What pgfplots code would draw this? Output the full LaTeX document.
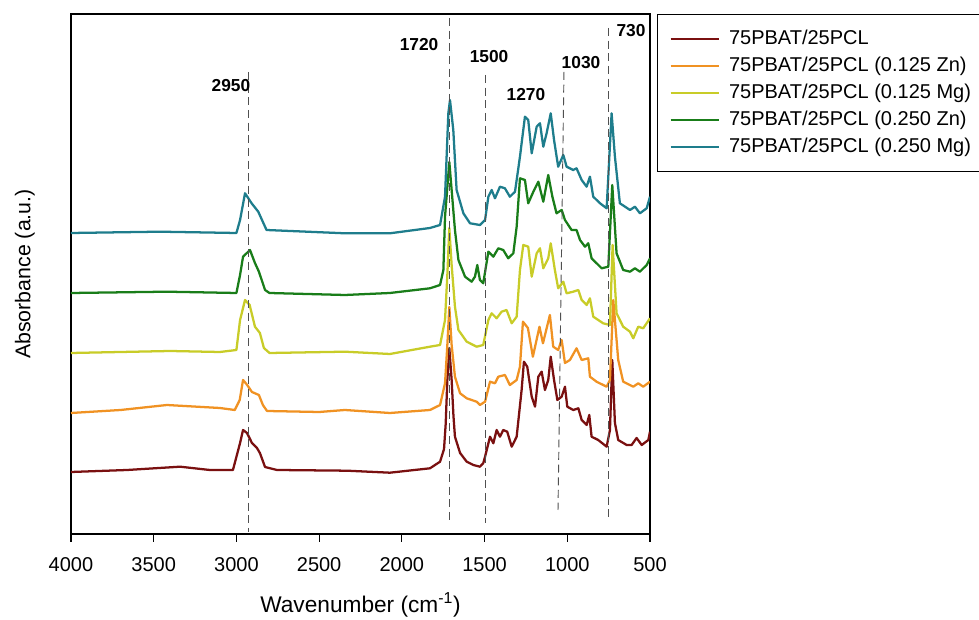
\documentclass[border=0pt]{standalone}
\usepackage{fontspec}
\setmainfont{Liberation Sans}
\usepackage{pgfplots}
\pgfplotsset{compat=1.18}

\definecolor{cMaroon}{RGB}{122,16,16}
\definecolor{cOrange}{RGB}{240,146,35}
\definecolor{cLime}{RGB}{200,204,40}
\definecolor{cGreen}{RGB}{25,125,25}
\definecolor{cTeal}{RGB}{30,125,140}
\definecolor{cDash}{RGB}{80,80,80}

\begin{document}
\begin{tikzpicture}
\useasboundingbox (-53.25pt,-64.5pt) rectangle (681pt,400.5pt);
\begin{axis}[
  scale only axis,
  width=434.25pt, height=390pt,
  x dir=reverse,
  xmin=500, xmax=4000,
  ymin=0, ymax=520,
  xtick={500,1000,1500,2000,2500,3000,3500,4000},
  ytick=\empty,
  xtick pos=bottom,
  tick align=outside,
  major tick length=6pt,
  axis line style={line width=0.9pt},
  every tick/.style={line width=0.9pt, black},
  /pgf/number format/assume math mode=true,
  /pgf/number format/set thousands separator={},
  ticklabel style={font=\fontsize{15}{18}\selectfont},
  xticklabel style={anchor=center, yshift=-17pt},
  xlabel={Wavenumber (cm\textsuperscript{-1})},
  ylabel={Absorbance (a.u.)},
  label style={font=\fontsize{17}{20}\selectfont},
  xlabel style={at={(axis description cs:0.5,-0.1365)}, anchor=center},
  ylabel style={at={(axis description cs:-0.0795,0.50)}, anchor=center, font=\fontsize{16}{19}\selectfont},
  legend style={at={(1,1)}, anchor=north west, xshift=5.25pt,
    draw=black, line width=0.6pt, inner xsep=9pt, inner ysep=10.5pt,
    font=\fontsize{15}{18}\selectfont, row sep=4.25pt,
    nodes={inner sep=1pt, text height=11pt, text depth=3pt}},
  legend cell align=left,
  legend image code/.code={\draw[#1, line width=1.8pt] (0pt,0pt) -- (36pt,0pt); \path (42pt,0pt);},
  every axis plot/.append style={line width=1.7pt, line join=round},
]
% 75PBAT/25PCL
\addplot[cMaroon] coordinates {
 (4000,62) (3661,64) (3341,67.3) (3160,64) (3021,64) (2978,91) (2960,104) (2936,101)
 (2906,91) (2876,86) (2858,81) (2827,67) (2755,64) (2332,63.3) (2072,61.3) (1830,65.7)
 (1769,72.3) (1745,85) (1735,110) (1725,154) (1713,186) (1699,154) (1688,118) (1679,97.3) (1648,81) (1608,72.3)
 (1568,69) (1528,67.3) (1508,70.7) (1497,77.3) (1467,97.3) (1447,90.7) (1427,104) (1407,97.3)
 (1387,104) (1363,102.3) (1336,87.3) (1306,97.3) (1276,144) (1262,172.3) (1242,167.3)
 (1215,137.3) (1195,127.3) (1175,157.3) (1155,162.3) (1135,144) (1115,154) (1100,177.3)
 (1080,154) (1060,134) (1034,137.3) (1014,147.3) (1000,127.3) (964,124) (933,125.7)
 (913,114) (883,109) (867,119) (853,97.3) (813,94) (762,87.3) (742,104) (728,174)
 (712,111) (692,94) (641,89) (611,89) (581,96) (550,89) (510,94) (500,102.3)};
\addlegendentry{75PBAT/25PCL}
% 0.125 Zn
\addplot[cOrange] coordinates {
 (4000,121) (3700,124) (3420,129) (3100,126) (3010,124) (2980,134) (2960,154) (2935,149)
 (2906,142) (2864,139) (2840,129) (2815,123) (2500,122) (2344,124) (2072,121) (1830,124)
 (1769,129) (1739,150.7) (1725,189) (1713,227) (1699,189) (1679,157.3) (1648,140.7)
 (1608,135.7) (1548,132.3) (1528,129) (1497,132.3) (1467,152.3) (1437,150.7) (1417,157.3)
 (1377,159) (1347,149) (1306,154) (1286,167.3) (1268,212.3) (1238,206) (1208,177.3)
 (1168,207.3) (1147,190.7) (1105,219) (1085,187.3) (1055,184) (1034,194) (1014,171)
 (984,174) (944,185.7) (913,174) (873,175.7) (863,157.3) (823,152.3) (762,147.3)
 (742,154) (722,234) (692,174) (662,152.3) (601,147.3) (571,150.7) (541,147.3) (500,152.3)};
\addlegendentry{75PBAT/25PCL (0.125 Zn)}
% 0.125 Mg
\addplot[cLime] coordinates {
 (4000,181) (3700,182) (3400,183) (3100,182) (3000,184) (2978,214) (2948,234) (2920,229)
 (2888,207.3) (2858,201) (2834,186) (2800,181) (2344,182.3) (2072,180) (1830,187.3)
 (1769,189) (1739,214) (1725,259) (1713,306) (1699,269) (1679,227.3) (1658,204)
 (1608,192.3) (1548,187.3) (1508,189) (1477,214) (1457,220.7) (1427,215.7) (1397,222.3)
 (1367,224) (1336,210.7) (1306,217.3) (1286,264) (1266,289) (1236,287.3) (1215,257.3)
 (1185,280.7) (1165,285.7) (1145,265.7) (1115,275.7) (1100,290.7) (1075,264) (1055,245.7)
 (1024,252.3) (1004,240.7) (964,242.3) (933,244) (913,234) (883,229) (863,235.7)
 (843,217.3) (783,210.7) (742,209) (726,289) (702,220.7) (662,207.3) (621,202.3)
 (601,195.7) (571,207.3) (541,205.7) (500,215.7)};
\addlegendentry{75PBAT/25PCL (0.125 Mg)}
% 0.250 Zn
\addplot[cGreen] coordinates {
 (4000,241) (3420,242.3) (3000,241) (2978,259) (2960,277.3) (2918,284) (2888,271)
 (2864,262.3) (2827,244) (2800,241) (2344,239) (2072,241) (1830,245.7) (1769,249)
 (1749,264) (1739,317.3) (1713,372) (1679,304) (1658,274) (1618,257.3) (1578,252.3)
 (1558,257.3) (1544,269) (1528,254) (1508,250.7) (1477,282.3) (1447,277.3) (1417,285.7)
 (1387,284) (1357,275.7) (1326,280.7) (1306,307.3) (1286,355.7) (1256,354) (1236,330.7)
 (1205,342.3) (1175,352.3) (1145,332.3) (1115,359) (1090,337.3) (1065,320.7) (1034,324)
 (1014,314) (974,304) (944,304) (923,294) (893,287.3) (873,290.7) (853,275.7) (792,265.7)
 (752,267.3) (728,349) (702,280.7) (662,264) (621,262.3) (591,265.7) (561,262.3)
 (520,269) (500,275.7)};
\addlegendentry{75PBAT/25PCL (0.250 Zn)}
% 0.250 Mg
\addplot[cTeal] coordinates {
 (4000,301) (3462,302.3) (3000,301) (2978,314) (2948,340.7) (2908,330.7) (2868,322.3)
 (2818,304) (2344,300.7) (2072,300.7) (1830,306) (1769,309) (1739,337.3) (1719,420.7)
 (1709,434) (1689,404) (1669,344) (1628,320.7) (1588,310.7) (1528,309) (1497,314)
 (1477,337.3) (1457,344) (1437,335.7) (1407,347.3) (1377,345.7) (1347,337.3) (1316,342.3)
 (1286,377.3) (1256,417.3) (1236,414) (1215,380.7) (1185,407.3) (1165,410.7) (1145,387.3)
 (1125,400.7) (1100,420.7) (1080,394) (1055,367.3) (1024,379) (1004,367.3) (964,364)
 (944,365.7) (913,354) (883,347.3) (863,357.3) (843,337.3) (802,330.7) (762,325.7)
 (732,420.7) (712,377.3) (682,330.7) (621,324) (591,327.3) (561,320.7) (520,325.7)
 (500,337.3)};
\addlegendentry{75PBAT/25PCL (0.250 Mg)}

% peak guide lines
\draw[cDash, line width=0.7pt, dash pattern=on 6pt off 3.5pt] (axis cs:2930,462) -- (axis cs:2930,2);
\draw[cDash, line width=0.7pt, dash pattern=on 6pt off 3.5pt] (axis cs:1715,516) -- (axis cs:1715,14);
\draw[cDash, line width=0.7pt, dash pattern=on 6pt off 3.5pt] (axis cs:1497,459) -- (axis cs:1497,11);
\draw[cDash, line width=0.7pt, dash pattern=on 6pt off 3.5pt] (axis cs:1020,462) -- (axis cs:1056,24);
\draw[cDash, line width=0.7pt, dash pattern=on 6pt off 3.5pt] (axis cs:752,506) -- (axis cs:752,17);

\begin{scope}[every node/.style={font=\fontsize{13}{15}\selectfont\bfseries}]
\node at (axis cs:3033,448) {2950};
\node at (axis cs:1896,489) {1720};
\node at (axis cs:1473,477) {1500};
\node at (axis cs:1250,439) {1270};
\node at (axis cs:917,471) {1030};
\node at (axis cs:615,503) {730};
\end{scope}
\end{axis}
\end{tikzpicture}
\end{document}
